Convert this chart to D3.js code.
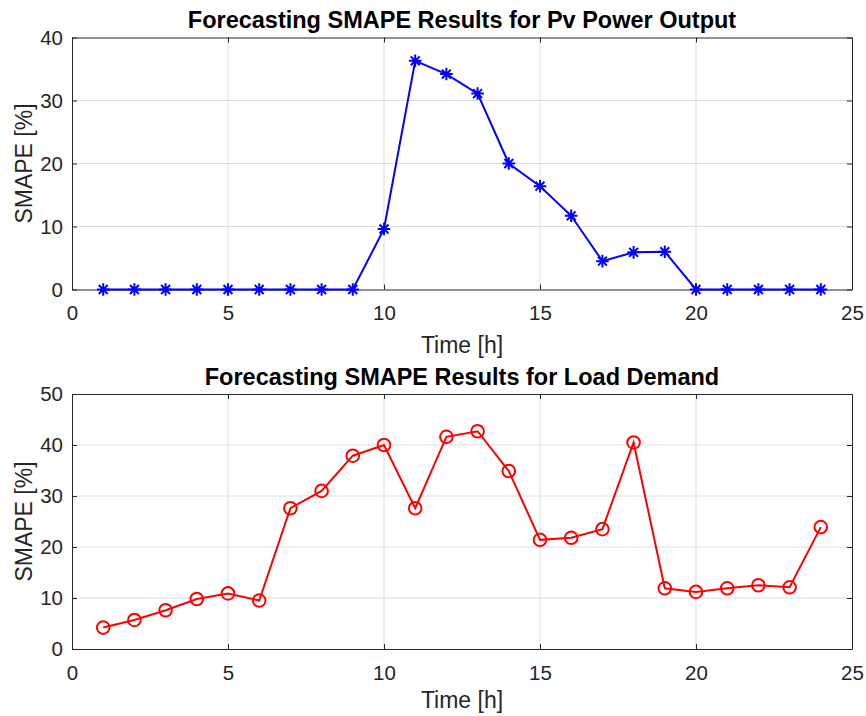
<!DOCTYPE html>
<html>
<head>
<meta charset="utf-8">
<script src="https://cdn.jsdelivr.net/npm/d3@7"></script>
<style>
  body { margin: 0; background: #fff; }
  svg { display: block; font-family: "Liberation Sans", Arial, Helvetica, sans-serif; }
  .tick text { fill: #262626; font-size: 20.5px; }
  .grid line { stroke: #dedede; }
  .axis-label { fill: #262626; font-size: 23px; }
  .title { fill: #000; font-size: 23.5px; font-weight: bold; }
</style>
</head>
<body>
<div id="viewportContainer"></div>
<script>
/* --- データ --- */
const hours = d3.range(1, 25);
const pvSmape = [0, 0, 0, 0, 0, 0, 0, 0, 0, 9.6, 36.3, 34.2, 31.1, 20.0, 16.4, 11.7, 4.5, 5.9, 6.0, 0, 0, 0, 0, 0];
const loadSmape = [4.2, 5.7, 7.6, 9.8, 10.9, 9.5, 27.6, 31.0, 37.9, 40.0, 27.6, 41.6, 42.7, 34.9, 21.4, 21.8, 23.5, 40.5, 11.9, 11.2, 11.9, 12.5, 12.1, 23.9];
const xTicks = [0, 5, 10, 15, 20, 25];
const pvYTicks = [0, 10, 20, 30, 40];
const loadYTicks = [0, 10, 20, 30, 40, 50];

/* --- ビューポート --- */
const viewport = {width: 866, height: 716};

const svg = d3.select("#viewportContainer")
    .append("svg")
    .attr("width", viewport.width)
    .attr("height", viewport.height);

const panels = [
    { title: "Forecasting SMAPE Results for Pv Power Output", values: pvSmape, yTicks: pvYTicks,
      top: 37.5, bottom: 289.5, xLabelY: 353, color: "#0000ff", marker: "star" },
    { title: "Forecasting SMAPE Results for Load Demand", values: loadSmape, yTicks: loadYTicks,
      top: 394, bottom: 649, xLabelY: 708, color: "#ff0000", marker: "circle" }
];

const left = 72, right = 852;

let drawPanel = function(p) {
    const g = svg.append("g");

    const xScale = d3.scaleLinear().domain([0, 25]).range([left, right]);
    const yScale = d3.scaleLinear()
        .domain([0, d3.max(p.yTicks)])
        .range([p.bottom, p.top]);

    /*--- グリッド ---*/
    const grid = g.append("g").attr("class", "grid");
    grid.selectAll(".gx").data(xTicks.slice(1, -1)).enter().append("line")
        .attr("x1", d => xScale(d)).attr("x2", d => xScale(d))
        .attr("y1", p.top).attr("y2", p.bottom);
    grid.selectAll(".gy").data(p.yTicks.slice(1, -1)).enter().append("line")
        .attr("y1", d => yScale(d)).attr("y2", d => yScale(d))
        .attr("x1", left).attr("x2", right);

    /*--- 軸 ---*/
    const xAxis = d3.axisBottom(xScale).tickValues(xTicks).tickSizeInner(-5).tickSizeOuter(0).tickPadding(16);
    const yAxis = d3.axisLeft(yScale).tickValues(p.yTicks).tickSizeInner(-5).tickSizeOuter(0).tickPadding(9);
    const xTop = d3.axisTop(xScale).tickValues(xTicks).tickSizeInner(-5).tickSizeOuter(0).tickFormat("");
    const yRight = d3.axisRight(yScale).tickValues(p.yTicks).tickSizeInner(-5).tickSizeOuter(0).tickFormat("");

    [
        [xAxis, "translate(0," + p.bottom + ")"],
        [yAxis, "translate(" + left + ",0)"],
        [xTop, "translate(0," + p.top + ")"],
        [yRight, "translate(" + right + ",0)"]
    ].forEach(a => {
        const ax = g.append("g").attr("transform", a[1]).call(a[0]);
        ax.selectAll("path, line").attr("stroke", "#262626").attr("stroke-width", 1);
        ax.selectAll("text").attr("font-family", null).attr("font-size", null);
    });

    /*--- 軸ラベル ---*/
    g.append("text")
        .attr("class", "axis-label")
        .attr("text-anchor", "middle")
        .attr("x", (left + right) / 2)
        .attr("y", p.xLabelY)
        .text("Time [h]");

    g.append("text")
        .attr("class", "axis-label")
        .attr("text-anchor", "middle")
        .attr("transform", "rotate(-90)")
        .attr("x", -(p.top + p.bottom) / 2)
        .attr("y", 32)
        .text("SMAPE [%]");

    g.append("text")
        .attr("class", "title")
        .attr("text-anchor", "middle")
        .attr("x", (left + right) / 2)
        .attr("y", p.top - 9.5)
        .text(p.title);

    /*--- 折れ線 ---*/
    const data = hours.map((h, i) => ({h: h, v: p.values[i]}));
    const line = d3.line().x(d => xScale(d.h)).y(d => yScale(d.v));

    g.append("path")
        .datum(data)
        .attr("fill", "none")
        .attr("stroke", p.color)
        .attr("stroke-width", 2)
        .attr("d", line);

    /*--- マーカー ---*/
    const markers = g.selectAll(".marker").data(data).enter().append("g")
        .attr("class", "marker")
        .attr("transform", d => "translate(" + xScale(d.h) + "," + yScale(d.v) + ")");

    if (p.marker === "circle") {
        markers.append("circle")
            .attr("r", 6.3)
            .attr("fill", "none")
            .attr("stroke", p.color)
            .attr("stroke-width", 2);
    } else {
        const s = 6.3;
        const d = s * 0.7071;
        const star = "M" + (-s) + ",0L" + s + ",0M0," + (-s) + "L0," + s +
            "M" + (-d) + "," + (-d) + "L" + d + "," + d +
            "M" + (-d) + "," + d + "L" + d + "," + (-d);
        markers.append("path")
            .attr("d", star)
            .attr("fill", "none")
            .attr("stroke", p.color)
            .attr("stroke-width", 2);
    }
};

panels.forEach(drawPanel);
</script>
</body>
</html>
